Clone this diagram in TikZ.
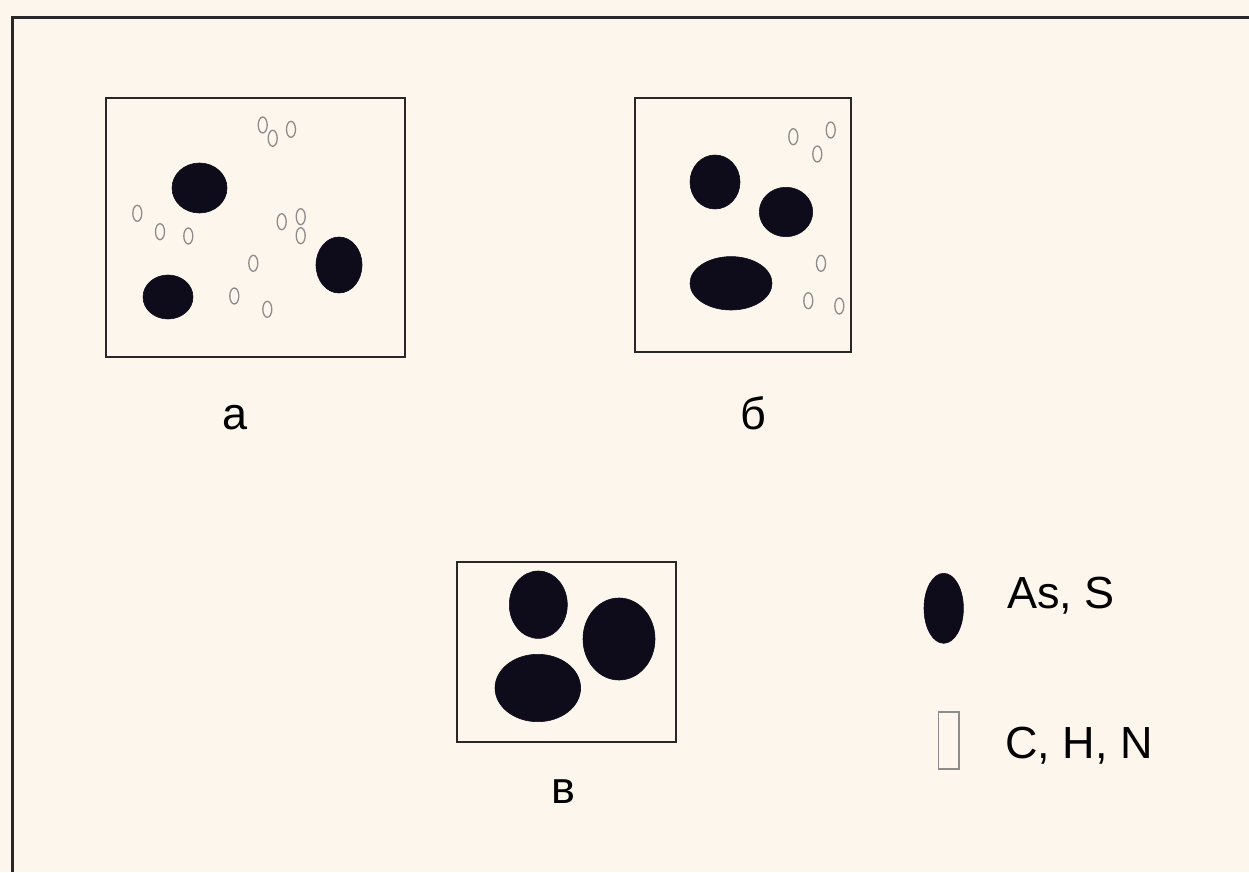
\documentclass[tikz,border=0pt]{standalone}
\usepackage{fontspec}
\setmainfont{Liberation Sans}
\definecolor{paper}{RGB}{253,246,237}
\definecolor{ink}{RGB}{14,12,26}
\definecolor{frame}{RGB}{40,40,40}
\definecolor{light}{RGB}{140,140,140}
\tikzset{
  panel/.style={draw=frame, line width=2pt},
  blob/.style={fill=ink, draw=ink, line width=0.6pt},
  atom/.style={draw=light, line width=1.3pt},
  lbl/.style={font=\fontsize{45}{54}\selectfont, text=black, inner sep=0pt},
}
\newcommand{\smallatom}[1]{\draw[atom] #1 ellipse [x radius=4.5pt, y radius=8pt];}
\begin{document}
\begin{tikzpicture}[x=1pt,y=-1pt]
\fill[paper] (0,0) rectangle (1249,872);
\useasboundingbox (0,0) rectangle (1249,872);
% outer frame
\draw[frame, line width=3pt] (12,872) -- (12,18) -- (1249,18);

% panel a
\draw[panel] (106,98) rectangle (405,357);
\fill[blob] (199.5,188) ellipse [x radius=27.5pt, y radius=25pt];
\fill[blob] (168,297) ellipse [x radius=25pt, y radius=22pt];
\fill[blob] (339,265) ellipse [x radius=23pt, y radius=28pt];
\smallatom{(262.7,125)}
\smallatom{(272.7,138.3)}
\smallatom{(291,129.3)}
\smallatom{(137.3,213.3)}
\smallatom{(160,231.7)}
\smallatom{(188.3,236)}
\smallatom{(281.7,221.7)}
\smallatom{(300.7,216.7)}
\smallatom{(300.7,235.7)}
\smallatom{(253.3,263.3)}
\smallatom{(234.3,296)}
\smallatom{(267.3,309.3)}
\node[lbl, anchor=base] (la) at (235,429) {а};

% panel b
\draw[panel] (635,98) rectangle (851,352);
\fill[blob] (715,182) ellipse [x radius=25pt, y radius=27pt];
\fill[blob] (786,212) ellipse [x radius=26.7pt, y radius=24.7pt];
\fill[blob] (731,283.3) ellipse [x radius=41pt, y radius=26.7pt];
\smallatom{(793.3,136.7)}
\smallatom{(830.7,130)}
\smallatom{(817.3,154)}
\smallatom{(821,263.3)}
\smallatom{(808.3,300.7)}
\smallatom{(839.3,306)}
\node[lbl, anchor=base] (lb) at (753,429) {б};

% panel c
\draw[panel] (457,562) rectangle (676,742);
\fill[blob] (538.3,604.7) ellipse [x radius=29pt, y radius=33.7pt];
\fill[blob] (619,639) ellipse [x radius=36pt, y radius=41pt];
\fill[blob] (537.8,688) ellipse [x radius=42.8pt, y radius=33.7pt];
\node[lbl, anchor=base] (lc) at (563,803) {в};

% legend
\fill[blob] (943.7,608.3) ellipse [x radius=19.7pt, y radius=35pt];
\node[lbl, anchor=base west] (l1) at (1007,608) {As, S};
\draw[draw=light, line width=1.5pt] (938.5,712) rectangle (959,769);
\node[lbl, anchor=base west] (l2) at (1005,758) {C, H, N};
\end{tikzpicture}
\end{document}
